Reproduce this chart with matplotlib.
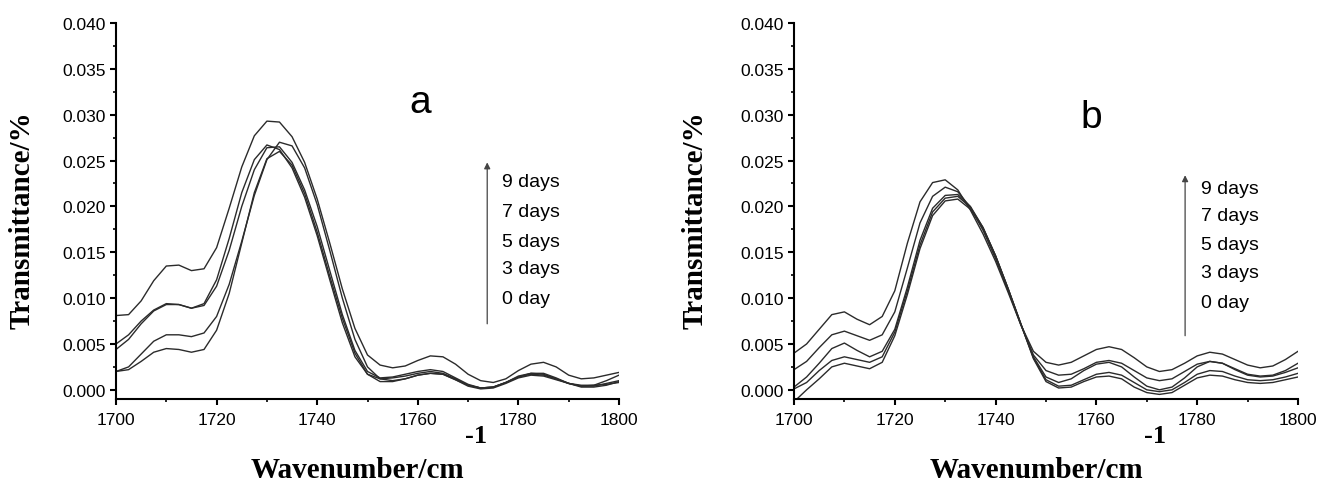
import matplotlib
matplotlib.use('Agg')
import matplotlib.pyplot as plt
from matplotlib.ticker import MultipleLocator, FormatStrFormatter


wavenumber = [1700 + 2.5 * i for i in range(41)]

# panel a, five spectra (top curve first)
a_curve1 = [0.0081, 0.0082, 0.0097, 0.0119, 0.0135, 0.0136, 0.0130, 0.0132, 0.0155, 0.0198,
            0.0243, 0.0277, 0.0293, 0.0292, 0.0276, 0.0248, 0.0208, 0.0160, 0.0110, 0.0067,
            0.0038, 0.0027, 0.0024, 0.0026, 0.0032, 0.0037, 0.0036, 0.0028, 0.0017, 0.0010,
            0.0008, 0.0012, 0.0021, 0.0028, 0.0030, 0.0025, 0.0016, 0.0012, 0.0013, 0.0016,
            0.0019]
a_curve2 = [0.0050, 0.0060, 0.0075, 0.0087, 0.0094, 0.0093, 0.0089, 0.0094, 0.0120, 0.0165,
            0.0215, 0.0251, 0.0267, 0.0262, 0.0242, 0.0210, 0.0168, 0.0120, 0.0073, 0.0036,
            0.0017, 0.0012, 0.0013, 0.0015, 0.0018, 0.0020, 0.0018, 0.0012, 0.0005, 0.0002,
            0.0003, 0.0008, 0.0014, 0.0017, 0.0016, 0.0012, 0.0007, 0.0004, 0.0004, 0.0007,
            0.0010]
a_curve3 = [0.0044, 0.0055, 0.0072, 0.0086, 0.0093, 0.0093, 0.0089, 0.0092, 0.0113, 0.0152,
            0.0200, 0.0240, 0.0264, 0.0265, 0.0248, 0.0218, 0.0178, 0.0130, 0.0082, 0.0043,
            0.0020, 0.0013, 0.0014, 0.0017, 0.0020, 0.0022, 0.0020, 0.0013, 0.0006, 0.0002,
            0.0003, 0.0008, 0.0015, 0.0018, 0.0017, 0.0012, 0.0007, 0.0004, 0.0005, 0.0010,
            0.0016]
a_curve4 = [0.0020, 0.0025, 0.0039, 0.0053, 0.0060, 0.0060, 0.0058, 0.0062, 0.0080, 0.0115,
            0.0162, 0.0212, 0.0251, 0.0270, 0.0266, 0.0242, 0.0202, 0.0152, 0.0100, 0.0055,
            0.0025, 0.0012, 0.0010, 0.0012, 0.0016, 0.0018, 0.0017, 0.0011, 0.0004, 0.0001,
            0.0002, 0.0007, 0.0013, 0.0016, 0.0015, 0.0011, 0.0007, 0.0005, 0.0005, 0.0006,
            0.0008]
a_curve5 = [0.0020, 0.0022, 0.0031, 0.0041, 0.0045, 0.0044, 0.0041, 0.0044, 0.0065, 0.0105,
            0.0160, 0.0215, 0.0252, 0.0260, 0.0245, 0.0214, 0.0172, 0.0124, 0.0078, 0.0040,
            0.0017, 0.0009, 0.0009, 0.0012, 0.0016, 0.0018, 0.0017, 0.0011, 0.0005, 0.0002,
            0.0003, 0.0008, 0.0014, 0.0018, 0.0018, 0.0013, 0.0007, 0.0003, 0.0003, 0.0005,
            0.0009]

# panel b
b_curve1 = [0.0040, 0.0050, 0.0066, 0.0082, 0.0085, 0.0077, 0.0071, 0.0080, 0.0108, 0.0160,
            0.0205, 0.0226, 0.0229, 0.0218, 0.0196, 0.0170, 0.0140, 0.0106, 0.0071, 0.0042,
            0.0030, 0.0027, 0.0030, 0.0037, 0.0044, 0.0047, 0.0044, 0.0035, 0.0025, 0.0020,
            0.0022, 0.0029, 0.0037, 0.0041, 0.0039, 0.0033, 0.0027, 0.0024, 0.0026, 0.0033,
            0.0042]
b_curve2 = [0.0022, 0.0031, 0.0046, 0.0060, 0.0064, 0.0059, 0.0054, 0.0060, 0.0085, 0.0133,
            0.0182, 0.0211, 0.0221, 0.0216, 0.0199, 0.0174, 0.0143, 0.0108, 0.0071, 0.0038,
            0.0021, 0.0016, 0.0017, 0.0023, 0.0030, 0.0032, 0.0029, 0.0021, 0.0013, 0.0010,
            0.0012, 0.0020, 0.0028, 0.0031, 0.0029, 0.0023, 0.0017, 0.0015, 0.0016, 0.0021,
            0.0029]
b_curve3 = [0.0003, 0.0014, 0.0029, 0.0045, 0.0051, 0.0043, 0.0036, 0.0042, 0.0066, 0.0112,
            0.0163, 0.0198, 0.0212, 0.0213, 0.0200, 0.0177, 0.0146, 0.0110, 0.0072, 0.0036,
            0.0014, 0.0008, 0.0012, 0.0021, 0.0028, 0.0030, 0.0025, 0.0014, 0.0004, 0.0000,
            0.0003, 0.0013, 0.0025, 0.0031, 0.0029, 0.0022, 0.0016, 0.0014, 0.0015, 0.0019,
            0.0024]
b_curve4 = [0.0001, 0.0008, 0.0021, 0.0032, 0.0036, 0.0033, 0.0030, 0.0036, 0.0063, 0.0108,
            0.0158, 0.0194, 0.0209, 0.0211, 0.0199, 0.0177, 0.0146, 0.0110, 0.0072, 0.0035,
            0.0011, 0.0004, 0.0005, 0.0011, 0.0017, 0.0019, 0.0016, 0.0008, 0.0000, -0.0002,
            0.0000, 0.0008, 0.0017, 0.0021, 0.0020, 0.0015, 0.0011, 0.0010, 0.0011, 0.0014,
            0.0018]
b_curve5 = [-0.0013, 0.0000, 0.0012, 0.0025, 0.0029, 0.0026, 0.0023, 0.0030, 0.0059, 0.0104,
            0.0154, 0.0190, 0.0206, 0.0208, 0.0197, 0.0176, 0.0146, 0.0110, 0.0072, 0.0034,
            0.0009, 0.0002, 0.0003, 0.0009, 0.0014, 0.0015, 0.0012, 0.0003, -0.0003, -0.0005,
            -0.0003, 0.0005, 0.0013, 0.0016, 0.0015, 0.0011, 0.0008, 0.0007, 0.0008, 0.0011,
            0.0014]

day_labels = ['9 days', '7 days', '5 days', '3 days', '0 day']

LINE_COLOR = '#2b2b2b'
SANS = 'Liberation Sans'
SERIF = 'Liberation Serif'


def setup_axes(ax):
    ax.set_xlim(1700, 1800)
    ax.set_ylim(-0.001, 0.040)
    ax.spines['top'].set_visible(False)
    ax.spines['right'].set_visible(False)
    for side in ['left', 'bottom']:
        ax.spines[side].set_linewidth(1.5)
    ax.spines['left'].set_bounds(-0.001, 0.040)
    ax.xaxis.set_major_locator(MultipleLocator(20))
    ax.xaxis.set_minor_locator(MultipleLocator(10))
    ax.yaxis.set_major_locator(MultipleLocator(0.005))
    ax.yaxis.set_minor_locator(MultipleLocator(0.0025))
    ax.yaxis.set_major_formatter(FormatStrFormatter('%.3f'))
    ax.tick_params(which='major', direction='out', length=4.5, width=1.5, labelsize=12.5)
    ax.tick_params(which='minor', direction='out', length=2.5, width=1.2)
    ax.tick_params(axis='y', pad=3)
    ax.tick_params(axis='x', pad=5)
    for lbl in ax.get_xticklabels() + ax.get_yticklabels():
        lbl.set_fontfamily(SANS)


def draw_panel(ax, curves, letter, letter_pos, arrow_x, arrow_y, label_x, label_ys):
    for c in curves:
        ax.plot(wavenumber, c, color=LINE_COLOR, lw=1.0, solid_joinstyle='round')
    setup_axes(ax)
    ax.text(letter_pos[0], letter_pos[1], letter, fontsize=28, family=SANS,
            ha='center', va='center')
    ax.annotate('', xy=(arrow_x, arrow_y[1]), xytext=(arrow_x, arrow_y[0]),
                arrowprops=dict(arrowstyle='-|>', color='#444444', lw=0.9,
                                mutation_scale=9, shrinkA=0, shrinkB=0))
    for lab, y in zip(day_labels, label_ys):
        ax.text(label_x, y, lab, fontsize=14, family=SANS, ha='left', va='center')


fig = plt.figure(figsize=(13.21, 4.85), dpi=100)
W, H = 1321.0, 485.0

ax_a = fig.add_axes([116 / W, 1 - 400 / H, 503 / W, 376 / H])
ax_b = fig.add_axes([794 / W, 1 - 400 / H, 504 / W, 376 / H])

draw_panel(ax_a, [a_curve1, a_curve2, a_curve3, a_curve4, a_curve5], 'a', (1760.5, 0.0314),
           1773.8, (0.0072, 0.0248), 1776.8, [0.0227, 0.0194, 0.0162, 0.0132, 0.0100])
draw_panel(ax_b, [b_curve1, b_curve2, b_curve3, b_curve4, b_curve5], 'b', (1759.0, 0.0298),
           1777.6, (0.0059, 0.0234), 1780.8, [0.0220, 0.0190, 0.0158, 0.0128, 0.0095])

# axis titles, bold serif like the original figure
for cx in [22, 695]:
    fig.text(cx / W, 1 - 220 / H, 'Transmittance/%', rotation=90, fontsize=21,
             family=SERIF, weight='bold', ha='center', va='center')
for cx in [357, 1036]:
    fig.text(cx / W, 1 - 471 / H, 'Wavenumber/cm', fontsize=21, family=SERIF,
             weight='bold', ha='center', va='center')
for sx in [465, 1144]:
    fig.text(sx / W, 1 - 437 / H, '-1', fontsize=19, family=SERIF,
             weight='bold', ha='left', va='center')

fig.savefig('out.png', dpi=100)
